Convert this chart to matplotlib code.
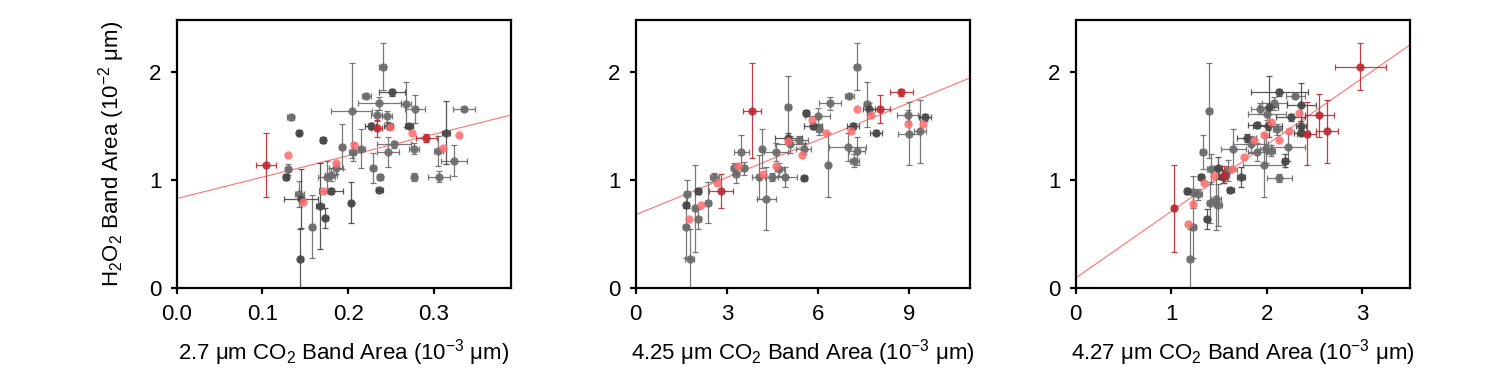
import matplotlib
matplotlib.use("Agg")
import matplotlib.pyplot as plt
import numpy as np

plt.rcParams['font.family'] = ['Liberation Sans', 'DejaVu Sans']
plt.rcParams['font.size'] = 16
plt.rcParams['mathtext.fontset'] = 'custom'
plt.rcParams['mathtext.rm'] = 'Liberation Sans'

# kinds: g = gray, k = dark gray, p = light red (no error), r = dark red
# panel 1 : 2.7 um band
x1 = [0.240, 0.221, 0.251, 0.236, 0.267, 0.278, 0.335, 0.204, 0.133, 0.233,
      0.245, 0.226, 0.233, 0.247, 0.249, 0.271, 0.143, 0.274, 0.291, 0.314,
      0.329, 0.170, 0.193, 0.207, 0.215, 0.205, 0.253, 0.246, 0.277, 0.305,
      0.310, 0.323, 0.104, 0.130, 0.130, 0.127, 0.186, 0.186, 0.180, 0.175,
      0.229, 0.237, 0.277, 0.306, 0.236, 0.171, 0.180, 0.143, 0.145, 0.147,
      0.203, 0.167, 0.173, 0.158, 0.144]
y1 = [2.05, 1.78, 1.81, 1.71, 1.70, 1.66, 1.66, 1.64, 1.58, 1.60,
      1.59, 1.50, 1.48, 1.50, 1.49, 1.50, 1.44, 1.44, 1.39, 1.44,
      1.42, 1.37, 1.31, 1.32, 1.29, 1.26, 1.33, 1.26, 1.29, 1.27,
      1.30, 1.18, 1.14, 1.23, 1.10, 1.03, 1.16, 1.11, 1.05, 1.03,
      1.11, 1.03, 1.03, 1.03, 0.91, 0.90, 0.90, 0.87, 0.83, 0.80,
      0.79, 0.76, 0.65, 0.57, 0.27]
xe1 = [0.004, 0.005, 0.015, 0.025, 0.006, 0.012, 0.013, 0.024, 0.004, 0.006,
       0.006, 0.006, 0.006, 0.005, 0, 0.005, 0.002, 0, 0.012, 0.005,
       0, 0.003, 0.003, 0, 0.004, 0.004, 0.020, 0.013, 0.006, 0.005,
       0, 0.015, 0.012, 0, 0.003, 0.003, 0, 0.008, 0.007, 0.010,
       0.003, 0.004, 0.003, 0.013, 0.004, 0, 0.014, 0.005, 0.020, 0,
       0.002, 0.005, 0.003, 0.003, 0.003]
ye1 = [0.22, 0.02, 0.03, 0.06, 0.21, 0.13, 0.02, 0.44, 0.02, 0.05,
       0.05, 0.03, 0.08, 0.03, 0, 0.02, 0.02, 0, 0.04, 0.29,
       0, 0.03, 0.21, 0, 0.18, 0.08, 0.03, 0.14, 0.05, 0.14,
       0, 0.14, 0.30, 0, 0.05, 0.03, 0, 0.05, 0.06, 0.15,
       0.14, 0.03, 0.04, 0.05, 0.01, 0, 0.03, 0.12, 0.27, 0,
       0.19, 0.40, 0.09, 0.29, 0.28]
k1 = ("ggkggggggg" "gkrkpkkprk" "pkgpgggggg" "pgrpgkpggg" "ggggkpkgkp" "kkkgk")

# panel 2 : 4.25 um band
x2 = [7.29, 7.02, 8.74, 3.82, 5.02, 6.39, 7.62, 7.67, 7.29, 8.02,
      7.73, 8.95, 9.52, 5.61, 5.98, 5.79, 5.83, 6.04, 6.26, 7.14,
      7.07, 7.89, 8.96, 9.45, 8.99, 9.36, 5.02, 5.02, 5.08, 5.36,
      5.53, 5.48, 6.97, 7.28, 7.19, 6.34, 4.61, 4.15, 3.47, 3.38,
      3.57, 3.24, 3.30, 4.72, 4.60, 4.18, 4.04, 4.48, 4.90, 5.53,
      4.30, 2.58, 2.67, 2.81, 2.05, 2.37, 2.15, 1.70, 1.66, 1.96,
      2.05, 1.75, 1.64, 1.78]
y2 = [2.05, 1.78, 1.81, 1.64, 1.68, 1.71, 1.70, 1.66, 1.66, 1.66,
      1.60, 1.60, 1.58, 1.62, 1.59, 1.56, 1.50, 1.47, 1.44, 1.50,
      1.45, 1.44, 1.52, 1.52, 1.43, 1.45, 1.39, 1.36, 1.33, 1.37,
      1.29, 1.23, 1.31, 1.27, 1.18, 1.14, 1.26, 1.29, 1.26, 1.13,
      1.11, 1.11, 1.06, 1.10, 1.13, 1.06, 1.03, 1.03, 1.03, 1.02,
      0.83, 1.03, 0.97, 0.90, 0.90, 0.79, 0.77, 0.87, 0.77, 0.74,
      0.64, 0.64, 0.57, 0.27]
xe2 = [0.10, 0.15, 0.38, 0.30, 0.10, 0.35, 0.10, 0.20, 0, 0.35,
       0, 0.35, 0.20, 0.10, 0.40, 0, 0.30, 0.10, 0, 0.20,
       0, 0.20, 0, 0, 0.35, 0.20, 0.45, 0, 0.50, 0.30,
       0.25, 0, 0.60, 0.25, 0.15, 0.05, 0.40, 0.05, 0.25, 0,
       0.10, 0.10, 0.10, 0.15, 0, 0, 0.20, 0.20, 0.40, 0.10,
       0.30, 0.15, 0, 0.40, 0.10, 0.10, 0, 0.10, 0.08, 0.05,
       0.10, 0, 0.08, 0.15]
ye2 = [0.22, 0.02, 0.03, 0.44, 0.28, 0.06, 0.21, 0.05, 0, 0.13,
       0, 0.05, 0.03, 0.03, 0.08, 0, 0.03, 0.05, 0, 0.03,
       0, 0.02, 0, 0, 0.29, 0.29, 0.05, 0, 0.08, 0.04,
       0.05, 0, 0.13, 0.13, 0.06, 0.30, 0.08, 0.18, 0.16, 0,
       0.06, 0.05, 0.09, 0.06, 0, 0, 0.20, 0.04, 0.09, 0.02,
       0.29, 0.04, 0, 0.16, 0.03, 0.19, 0, 0.13, 0.03, 0.40,
       0.09, 0, 0.29, 0.28]
k2 = ("ggrrgggkpr" "pgkkgpkgpk" "pkppggkpgg" "gpgggggggp" "ggggppgggk" "ggprkgpgkg" "gpgg")

# panel 3 : 4.27 um band
x3 = [2.98, 2.13, 2.30, 2.08, 1.93, 2.02, 1.40, 2.36, 2.00, 2.34,
      2.25, 2.55, 2.04, 1.90, 2.01, 2.11, 2.36, 1.97, 2.23, 2.13,
      2.36, 2.42, 2.63, 1.79, 1.87, 1.83, 1.65, 1.99, 2.04, 2.22,
      1.90, 1.76, 1.97, 2.19, 1.33, 1.42, 1.49, 1.64, 1.59, 1.55,
      1.45, 1.54, 1.73, 2.13, 1.31, 1.34, 1.62, 1.17, 1.23, 1.28,
      1.47, 1.41, 1.23, 1.49, 1.03, 1.37, 1.18, 1.23, 1.20]
y3 = [2.05, 1.81, 1.78, 1.71, 1.66, 1.68, 1.64, 1.69, 1.61, 1.62,
      1.58, 1.60, 1.54, 1.51, 1.50, 1.47, 1.50, 1.42, 1.45, 1.37,
      1.44, 1.43, 1.45, 1.39, 1.37, 1.33, 1.29, 1.29, 1.27, 1.31,
      1.26, 1.21, 1.14, 1.18, 1.26, 1.10, 1.11, 1.10, 1.09, 1.05,
      1.04, 1.03, 1.03, 1.02, 1.03, 0.97, 0.91, 0.90, 0.89, 0.87,
      0.83, 0.79, 0.78, 0.77, 0.74, 0.64, 0.59, 0.57, 0.27]
xe3 = [0.27, 0.30, 0.10, 0.13, 0.10, 0.10, 0.03, 0.15, 0.20, 0,
       0.15, 0.15, 0, 0.10, 0.15, 0.05, 0.05, 0, 0, 0,
       0.08, 0.10, 0.12, 0.10, 0, 0.18, 0.13, 0.06, 0.05, 0.18,
       0.10, 0, 0.22, 0.03, 0.03, 0.05, 0.04, 0, 0.10, 0.05,
       0, 0.04, 0.04, 0.13, 0.03, 0, 0.04, 0.03, 0.04, 0.04,
       0.05, 0.04, 0, 0.04, 0.01, 0.03, 0, 0.03, 0.03]
ye3 = [0.22, 0.03, 0.02, 0.06, 0.05, 0.28, 0.44, 0.21, 0.05, 0,
       0.03, 0.20, 0, 0.03, 0.04, 0.05, 0.05, 0, 0, 0,
       0.02, 0.29, 0.29, 0.04, 0, 0.08, 0.18, 0.13, 0.05, 0.13,
       0.08, 0, 0.30, 0.06, 0.16, 0.14, 0.10, 0, 0.10, 0.08,
       0, 0.06, 0.09, 0.04, 0.03, 0, 0.02, 0.03, 0.15, 0.05,
       0.29, 0.19, 0, 0.19, 0.40, 0.09, 0, 0.29, 0.28]
k3 = ("rkgggkgkgp" "krpkkgkppp" "krrkpggggg" "gpgkggkpgr" "pkkgkpkkgg" "ggpgrkpgg")

# linear fits (intercept, slope)
fit1 = (0.83, 1.98)
fit2 = (0.68, 0.115)
fit3 = (0.095, 0.616)

xlabels = ["2.7 \u03bcm CO$_2$ Band Area (10$^{-3}$ \u03bcm)",
           "4.25 \u03bcm CO$_2$ Band Area (10$^{-3}$ \u03bcm)",
           "4.27 \u03bcm CO$_2$ Band Area (10$^{-3}$ \u03bcm)"]
xlims = [(0, 0.39), (0, 11), (0, 3.5)]
xticks = [[0, 0.1, 0.2, 0.3], [0, 3, 6, 9], [0, 1, 2, 3]]
xticklabels = [["0.0", "0.1", "0.2", "0.3"], ["0", "3", "6", "9"], ["0", "1", "2", "3"]]

colors = {'g': '#6a6a6a', 'k': '#454545', 'p': '#ff6b6b', 'r': '#bb2a30'}

fig = plt.figure(figsize=(14.99, 3.70), dpi=100)
lefts = [0.1179, 0.4241, 0.7176]
panels = [(x1, y1, xe1, ye1, k1, fit1), (x2, y2, xe2, ye2, k2, fit2),
          (x3, y3, xe3, ye3, k3, fit3)]

for i, (x, y, xe, ye, kinds, fit) in enumerate(panels):
  ax = fig.add_axes([lefts[i], 0.2208, 0.2231, 0.7252])
  x = np.array(x); y = np.array(y); xe = np.array(xe); ye = np.array(ye)
  kinds = np.array(list(kinds))
  xx = np.linspace(xlims[i][0], xlims[i][1], 10)
  ax.plot(xx, fit[0] + fit[1] * xx, color='#ff5050', lw=0.8, alpha=0.8, zorder=1)
  for kd in ['g', 'k', 'r', 'p']:
    m = kinds == kd
    if kd == 'p':
      ax.plot(x[m], y[m], 'o', color=colors[kd], ms=6, mec='none', alpha=0.85, zorder=3)
    else:
      ax.errorbar(x[m], y[m], xerr=xe[m], yerr=ye[m], fmt='o', color=colors[kd],
                  ecolor=colors[kd], elinewidth=0.9, capsize=2, capthick=0.9,
                  ms=6, mec='none', alpha=0.9, zorder=2)
  ax.set_xlim(*xlims[i])
  ax.set_ylim(0, 2.48)
  ax.set_xticks(xticks[i])
  ax.set_xticklabels(xticklabels[i])
  ax.set_yticks([0, 1, 2])
  ax.tick_params(direction='out', length=4, width=1.6, labelsize=16, pad=7)
  for s in ax.spines.values():
    s.set_linewidth(1.6)
  ax.set_xlabel(xlabels[i], fontsize=16, labelpad=9)
  if i == 0:
    ax.set_ylabel("H$_2$O$_2$ Band Area (10$^{-2}$ \u03bcm)", fontsize=16, labelpad=16)

fig.savefig("out.png", dpi=100)
